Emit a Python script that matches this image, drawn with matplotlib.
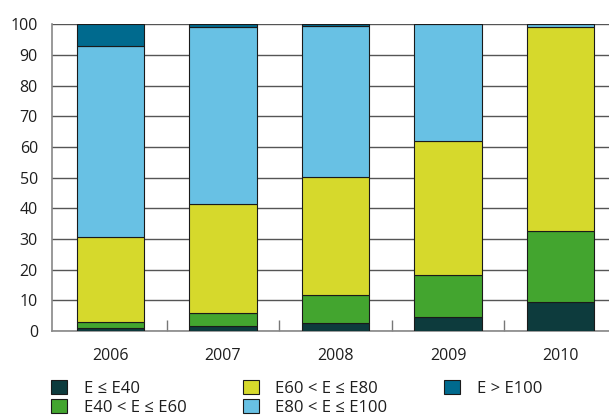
import matplotlib
matplotlib.use("Agg")
import matplotlib.pyplot as plt
import numpy as np

plt.rcParams["font.family"] = ["Open Sans", "DejaVu Sans"]

years = ["2006", "2007", "2008", "2009", "2010"]
labels = ["E ≤ E40", "E40 < E ≤ E60", "E60 < E ≤ E80", "E80 < E ≤ E100", "E > E100"]
colors = ["#0d3b3d", "#43a52f", "#d6d92c", "#68c1e4", "#006a8e"]

# share (%) per class, one list per class, values per year
e_le_40   = [0.9, 1.5, 2.5, 4.7, 9.4]
e_40_60   = [2.1, 4.5, 9.1, 13.5, 23.1]
e_60_80   = [27.5, 35.3, 38.7, 43.8, 66.5]
e_80_100  = [62.5, 57.9, 49.1, 38.0, 1.0]
e_gt_100  = [7.0, 0.8, 0.6, 0.0, 0.0]

series = [e_le_40, e_40_60, e_60_80, e_80_100, e_gt_100]

fig = plt.figure(figsize=(6.09, 4.17), dpi=100)
ax = fig.add_axes([0.085, 0.206, 0.915, 0.736])

x = np.arange(len(years))
bottom = np.zeros(len(years))
for vals, lab, col in zip(series, labels, colors):
    ax.bar(x, vals, width=0.6, bottom=bottom, color=col, edgecolor="#1a1a1a",
           linewidth=0.8, label=lab, zorder=3)
    bottom += np.array(vals)

ax.set_ylim(0, 100)
ax.set_xlim(-0.52, 4.43)
ax.set_yticks(np.arange(0, 101, 10))
ax.yaxis.grid(True, color="#555555", linewidth=1.0, zorder=0)
ax.set_axisbelow(True)

ax.set_xticks(x)
ax.set_xticklabels(years)
ax.set_xticks(x[:-1] + 0.5, minor=True)
ax.tick_params(axis="x", which="major", length=0, pad=12, labelsize=11.5, colors="#1e1e1e")
ax.tick_params(axis="x", which="minor", direction="in", length=8, width=1, color="#777777")
ax.tick_params(axis="y", length=0, pad=10, labelsize=11.5, colors="#1e1e1e")

for s in ["top", "right"]:
    ax.spines[s].set_visible(False)
for s in ["left", "bottom"]:
    ax.spines[s].set_color("#888888")
    ax.spines[s].set_linewidth(1.2)

handles, labs = ax.get_legend_handles_labels()
leg = fig.legend(handles, labs, loc="upper left", bbox_to_anchor=(51 / 609, 1 - 380 / 417),
                 ncol=3, frameon=False, fontsize=12, borderpad=0, borderaxespad=0,
                 handlelength=0.95, handleheight=0.95, handletextpad=1.0,
                 columnspacing=3.4, labelspacing=0.1)
for t in leg.get_texts():
    t.set_color("#1e1e1e")

fig.savefig("out.png", dpi=100)
plt.close(fig)
